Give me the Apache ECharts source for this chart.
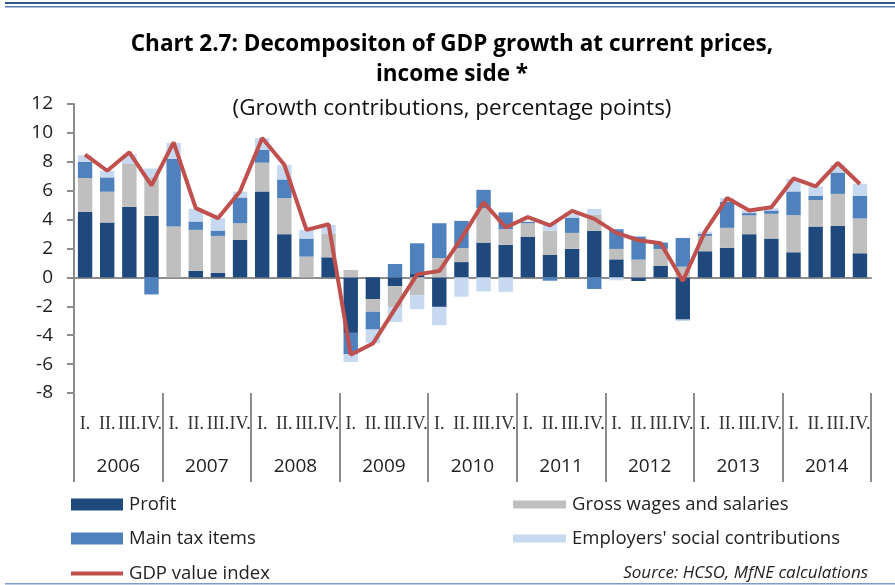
<!DOCTYPE html>
<html>
<head>
<meta charset="utf-8">
<title>Chart 2.7</title>
<script src="https://cdn.jsdelivr.net/npm/echarts@6/dist/echarts.min.js"></script>
<style>
  html, body { margin: 0; padding: 0; background: #fff; }
  #chart { width: 895px; height: 585px; }
</style>
</head>
<body>
<div id="chart"></div>
<script>
// Quarterly growth contributions to GDP (income side), percentage points
const years = ['2006', '2007', '2008', '2009', '2010', '2011', '2012', '2013', '2014'];
const quarterNames = ['I.', 'II.', 'III.', 'IV.'];
const quarters = [];
years.forEach(function (y) { quarterNames.forEach(function (q) { quarters.push(y + ' ' + q); }); });

const profit = [
  4.54, 3.80, 4.88, 4.26,
  0.00, 0.46, 0.32, 2.59,
  5.95, 2.99, 0.00, 1.39,
  -3.84, -1.50, -0.60, 0.23,
  -2.04, 1.06, 2.41, 2.25,
  2.82, 1.55, 1.97, 3.22,
  1.25, -0.25, 0.79, -2.92,
  1.81, 2.04, 2.99, 2.69,
  1.74, 3.52, 3.56, 1.67
];
const grossWages = [
  2.34, 2.13, 2.97, 2.68,
  3.52, 2.83, 2.55, 1.16,
  1.99, 2.50, 1.44, 1.62,
  0.51, -0.88, -1.48, -1.23,
  1.34, 0.97, 2.38, 1.10,
  0.93, 1.69, 1.11, 1.11,
  0.72, 1.23, 1.18, 0.74,
  1.06, 1.39, 1.30, 1.71,
  2.57, 1.83, 2.22, 2.41
];
const taxItems = [
  1.13, 0.99, 0.00, -1.18,
  4.68, 0.58, 0.37, 1.78,
  0.90, 1.29, 1.25, 0.00,
  -1.48, -1.23, 0.93, 2.13,
  2.41, 1.88, 1.27, 1.15,
  0.10, -0.23, 1.06, -0.80,
  1.36, 1.60, 0.44, 1.99,
  0.14, 1.81, 0.16, 0.23,
  1.64, 0.30, 1.48, 1.57
];
const socialContrib = [
  0.44, 0.46, 0.66, 0.60,
  1.11, 0.88, 0.86, 0.40,
  0.79, 1.00, 0.60, 0.62,
  -0.53, -0.93, -1.00, -0.97,
  -1.27, -1.34, -0.97, -1.00,
  0.00, 0.50, 0.25, 0.41,
  -0.20, 0.05, 0.00, -0.10,
  0.16, 0.25, 0.19, 0.16,
  0.86, 0.65, 0.53, 0.83
];
const gdpValueIndex = [
  8.50, 7.38, 8.66, 6.37,
  9.35, 4.79, 4.10, 5.95,
  9.65, 7.80, 3.29, 3.68,
  -5.35, -4.58, -2.18, 0.21,
  0.44, 2.70, 5.19, 3.45,
  4.17, 3.60, 4.60, 4.05,
  3.08, 2.57, 2.36, -0.25,
  3.17, 5.49, 4.63, 4.86,
  6.85, 6.30, 7.92, 6.46
];
const yTicks = { min: -8, max: 12, step: 2 };

const FONT = "'Open Sans', 'Noto Sans', sans-serif";
const AXIS_GREY = '#8c8c8c';

const chart = echarts.init(document.getElementById('chart'), null, { renderer: 'canvas' });

function barSeries(name, data, color) {
  return {
    name: name,
    type: 'bar',
    stack: 'income',
    xAxisIndex: 0,
    data: data,
    barCategoryGap: '35%',
    itemStyle: { color: color },
    emphasis: { disabled: true }
  };
}

function legendItem(name, left, top, w, h, icon) {
  return {
    data: [{ name: name, icon: icon || 'rect' }],
    left: left,
    top: top,
    padding: 0,
    itemWidth: w,
    itemHeight: h,
    itemGap: 0,
    selectedMode: false,
    textStyle: { fontFamily: FONT, fontSize: 18.5, color: '#222', padding: [0, 0, 0, 1] }
  };
}

const option = {
  animation: false,
  backgroundColor: '#fff',
  title: {
    text: 'Chart 2.7: Decompositon of GDP growth at current prices,\nincome side *',
    subtext: '(Growth contributions, percentage points)',
    left: 452,
    top: 30,
    textAlign: 'center',
    padding: 0,
    itemGap: 6,
    textStyle: { fontFamily: FONT, fontSize: 22.5, fontWeight: 'bold', color: '#000', lineHeight: 30 },
    subtextStyle: { fontFamily: FONT, fontSize: 22.5, color: '#111', lineHeight: 26 }
  },
  legend: [
    legendItem('Profit', 71, 495, 52, 12),
    legendItem('Main tax items', 71, 529, 52, 12),
    legendItem('GDP value index', 71, 564, 52, 4, 'rect'),
    legendItem('Gross wages and salaries', 513, 495, 53, 8),
    legendItem("Employers' social contributions", 513, 529, 53, 8)
  ],
  grid: { left: 74, right: 24, top: 104, bottom: 192, containLabel: false },
  xAxis: [
    {
      // zero line
      type: 'category',
      data: quarters,
      position: 'bottom',
      axisLine: { show: true, onZero: true, lineStyle: { color: AXIS_GREY, width: 2 } },
      axisTick: { show: false },
      axisLabel: { show: false },
      splitLine: { show: false }
    },
    {
      // quarter labels
      type: 'category',
      data: quarters,
      position: 'bottom',
      axisLine: { show: false, onZero: false },
      axisTick: { show: false },
      axisLabel: {
        show: true,
        interval: 0,
        margin: 22,
        fontFamily: "'Liberation Serif', 'DejaVu Serif', serif",
        fontSize: 18,
        color: '#333',
        formatter: function (v) { return v.split(' ')[1]; }
      },
      splitLine: { show: false }
    },
    {
      // year labels with dividers
      type: 'category',
      data: years,
      position: 'bottom',
      axisLine: { show: false, onZero: false },
      axisTick: { show: true, interval: 0, length: 89, lineStyle: { color: AXIS_GREY, width: 2 } },
      axisLabel: { show: true, interval: 0, margin: 64, fontFamily: FONT, fontSize: 19, color: '#222' },
      splitLine: { show: false }
    }
  ],
  yAxis: {
    type: 'value',
    min: yTicks.min,
    max: yTicks.max,
    interval: yTicks.step,
    axisLine: { show: true, lineStyle: { color: AXIS_GREY, width: 2 } },
    axisTick: { show: true, inside: false, length: 7, lineStyle: { color: AXIS_GREY, width: 2 } },
    axisLabel: { margin: 21, fontFamily: FONT, fontSize: 19, color: '#222' },
    splitLine: { show: false }
  },
  series: [
    barSeries('Profit', profit, '#1F497D'),
    barSeries('Gross wages and salaries', grossWages, '#BFBFBF'),
    barSeries('Main tax items', taxItems, '#4F81BD'),
    barSeries("Employers' social contributions", socialContrib, '#C6D9F1'),
    {
      name: 'GDP value index',
      type: 'line',
      xAxisIndex: 0,
      data: gdpValueIndex,
      symbol: 'none',
      z: 5,
      lineStyle: { color: '#C0504D', width: 4 },
      itemStyle: { color: '#C0504D' },
      emphasis: { disabled: true }
    }
  ],
  graphic: [
    { type: 'rect', shape: { x: 5, y: 2, width: 890, height: 2 }, style: { fill: '#34598F' }, silent: true },
    { type: 'rect', shape: { x: 5, y: 6, width: 890, height: 1.5 }, style: { fill: '#5478B0' }, silent: true },
    { type: 'rect', shape: { x: 5, y: 583, width: 890, height: 1.5 }, style: { fill: '#7F9CC8' }, silent: true },
    {
      type: 'text',
      right: 27,
      top: 565,
      style: {
        text: 'Source: HCSO, MfNE calculations',
        font: 'italic 17px ' + FONT,
        fill: '#222'
      },
      silent: true
    }
  ]
};

chart.setOption(option);
</script>
</body>
</html>
